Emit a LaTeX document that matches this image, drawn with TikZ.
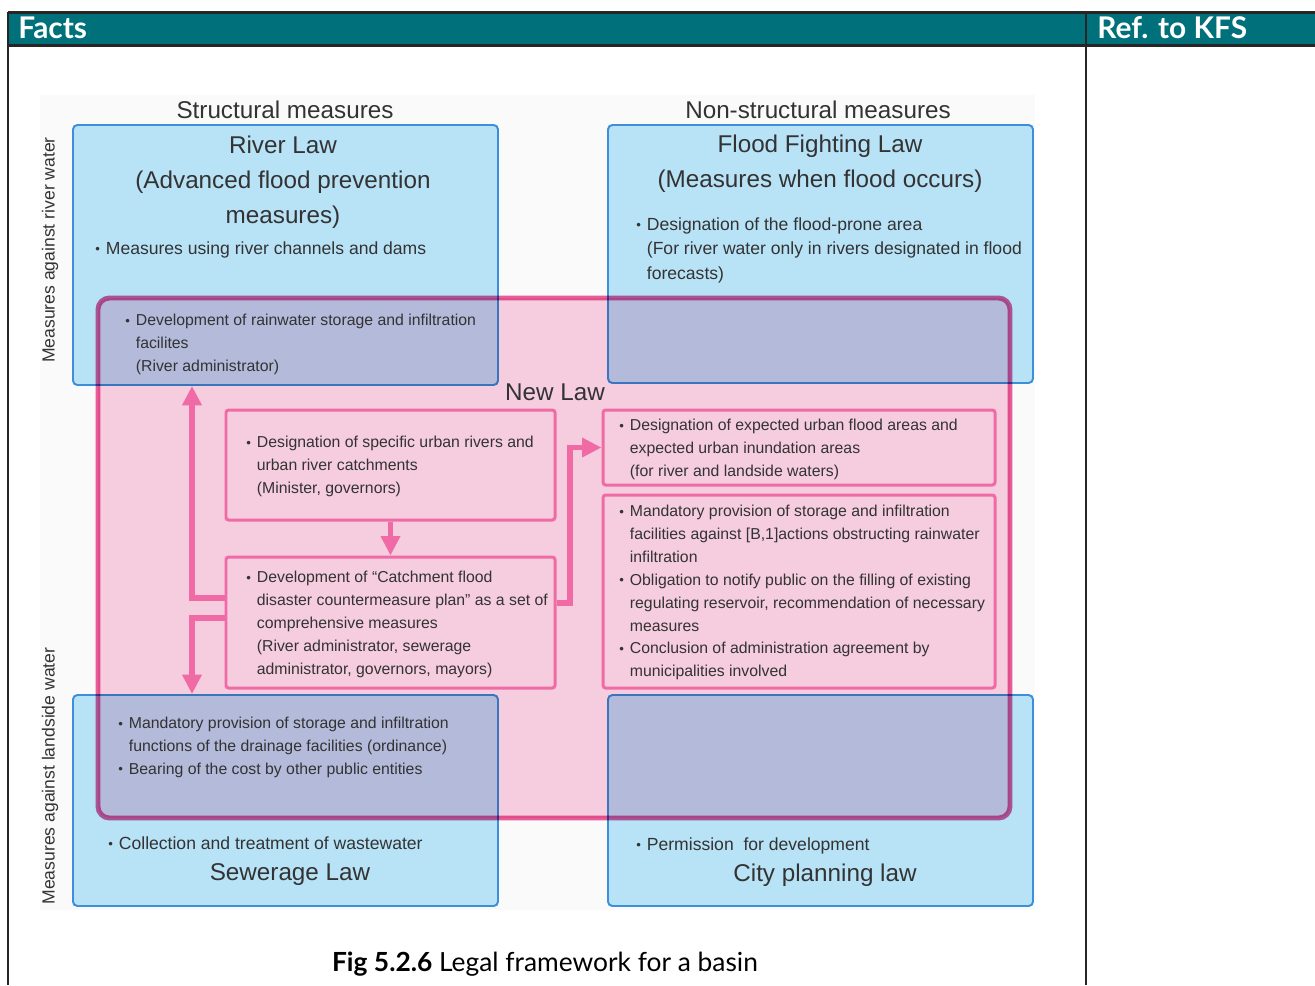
\documentclass[tikz,border=0pt]{standalone}
\usepackage{fontspec}
\setmainfont{Liberation Sans}
\newfontfamily\gillfont{Lato}
\usetikzlibrary{arrows.meta,fit}

\definecolor{headteal}{HTML}{00717A}
\definecolor{rulegray}{HTML}{262626}
\definecolor{lawblue}{HTML}{B8E2F6}
\definecolor{lawline}{HTML}{3C8FD8}
\definecolor{newpink}{HTML}{FAD2E3}
\definecolor{newline}{HTML}{EC5F9E}
\definecolor{inline}{HTML}{F06BA6}
\definecolor{txtgray}{HTML}{333333}

\newcommand\bul{\makebox[6pt][l]{\raisebox{0.3pt}{\fontsize{7.5}{7.5}\selectfont\textbullet}}}
\newcommand\hang{\hspace*{6pt}}

\tikzset{
  lawbox/.style={draw=lawline, fill=lawblue, line width=1.1pt, rounded corners=2.5pt, inner sep=0pt},
  newlawbox/.style={draw=newline, fill=newpink, line width=2.8pt, rounded corners=6.5pt, inner sep=0pt},
  inbox/.style={draw=inline, line width=1.7pt, rounded corners=1.5pt, inner sep=0pt},
  smalltxt/.style={font=\fontsize{10}{13}\selectfont, text=txtgray, align=left, anchor=north west, inner sep=0pt},
  newtxt/.style={smalltxt, font=\fontsize{9}{13}\selectfont},
  bigtxt/.style={font=\fontsize{13.8}{19.8}\selectfont, text=txtgray, align=center, inner sep=0pt},
  sidetxt/.style={font=\fontsize{10}{13}\selectfont, text=txtgray, rotate=90, inner sep=0pt},
  headtxt/.style={font=\gillfont\bfseries\fontsize{17}{19}\selectfont, text=white, anchor=west, inner sep=0pt},
  flowarrow/.style={draw=inline, line width=3.4pt, line join=miter, -{Triangle[width=10.5pt,length=11pt]}}
}

\begin{document}
\begin{tikzpicture}[x=0.02cm, y=-0.02cm]
  \useasboundingbox (0,0) rectangle (1315,985);

  % header of the page
  \fill[headteal] (8,12) rectangle (1315,45);
  \draw[rulegray, line width=1.7pt] (8,12) -- (1315,12) (8,45) -- (1315,45);
  \draw[rulegray, line width=1.1pt] (8,12) -- (8,985) (1086,12) -- (1086,985);
  \node[headtxt] (facts) at (18,28) {Facts};
  \node[headtxt] (kfs) at (1097,28) {Ref. to KFS};

  \fill[black!2] (40,95) rectangle (1035,910);

  % the four laws
  \node[lawbox, fit={(73,125) (498,385)}] (rivlaw) {};
  \node[lawbox, fit={(608,125) (1033,383)}] (floodlaw) {};
  \node[lawbox, fit={(73,695) (498,906)}] (sewlaw) {};
  \node[lawbox, fit={(608,695) (1033,906)}] (citylaw) {};

  % new law
  \begin{scope}[blend mode=multiply]
    \node[newlawbox, fit={(98,298) (1010,818)}] (newlaw) {};
  \end{scope}

  \node[inbox, fit={(226,410) (555,520)}] (desig) {};
  \node[inbox, fit={(226,557) (555,688)}] (plan) {};
  \node[inbox, fit={(603,410) (995,485)}] (areas) {};
  \node[inbox, fit={(603,495) (995,688)}] (oblig) {};

  \node[bigtxt] (structural) at (285,110) {Structural measures};
  \node[bigtxt] (nonstructural) at (818,110) {Non-structural measures};
  \node[sidetxt] (riverside) at (50,250) {Measures against river water};
  \node[sidetxt] (landside) at (50,776) {Measures against landside water};

  \node[bigtxt] (rivtitle) at (283,182) {River Law\\(Advanced flood prevention\\measures)};
  \node[smalltxt] (rivtxt) at (95,241) {\bul Measures using river channels and dams};
  \node[newtxt] (raintxt) at (125,314) {\bul Development of rainwater storage and infiltration\\\hang facilites\\\hang (River administrator)};

  \node[bigtxt] (floodtitle) at (820,164) {Flood Fighting Law\\(Measures when flood occurs)};
  \node[smalltxt, font=\fontsize{10}{14}\selectfont] (floodtxt) at (636,217) {\bul Designation of the flood-prone area\\\hang (For river water only in rivers designated in flood\\\hang forecasts)};

  \node[bigtxt] (newtitle) at (555,392) {New Law};
  \node[newtxt] (desigtxt) at (246,436) {\bul Designation of specific urban rivers and\\\hang urban river catchments\\\hang (Minister, governors)};
  \node[newtxt] (plantxt) at (246,571) {\bul Development of ``Catchment flood\\\hang disaster countermeasure plan'' as a set of\\\hang comprehensive measures\\\hang (River administrator, sewerage\\\hang administrator, governors, mayors)};
  \node[newtxt] (areastxt) at (619,419) {\bul Designation of expected urban flood areas and\\\hang expected urban inundation areas\\\hang (for river and landside waters)};
  \node[newtxt] (obligtxt) at (619,505) {\bul Mandatory provision of storage and infiltration\\\hang facilities against [B,1]actions obstructing rainwater\\\hang infiltration\\\bul Obligation to notify public on the filling of existing\\\hang regulating reservoir, recommendation of necessary\\\hang measures\\\bul Conclusion of administration agreement by\\\hang municipalities involved};

  \node[newtxt] (sewtxt) at (118,717) {\bul Mandatory provision of storage and infiltration\\\hang functions of the drainage facilities (ordinance)\\\bul Bearing of the cost by other public entities};
  \node[smalltxt] (wastetxt) at (108,836) {\bul Collection and treatment of wastewater};
  \node[bigtxt] (sewtitle) at (290,875) {Sewerage Law};
  \node[smalltxt] (permtxt) at (636,837) {\bul Permission\ \ for development};
  \node[bigtxt] (citytitle) at (825,875) {City planning law};

  % arrows
  \coordinate (upbend) at (192,598);
  \coordinate (downbend) at (192,618);
  \coordinate (rightbend) at (570,603);
  \draw[flowarrow] (desig.south) -- (plan.north);
  \draw[flowarrow] (plan.west |- upbend) -- (upbend) -- (upbend |- rivlaw.south);
  \draw[flowarrow] (plan.west |- downbend) -- (downbend) -- (downbend |- sewlaw.north);
  \draw[flowarrow] (plan.east |- rightbend) -- (rightbend) -- (rightbend |- areas.west) -- (areas.west);

  \node[font=\gillfont\fontsize{15}{17}\selectfont, inner sep=0pt] (caption) at (545,964) {\textbf{Fig 5.2.6} Legal framework for a basin};
\end{tikzpicture}
\end{document}
